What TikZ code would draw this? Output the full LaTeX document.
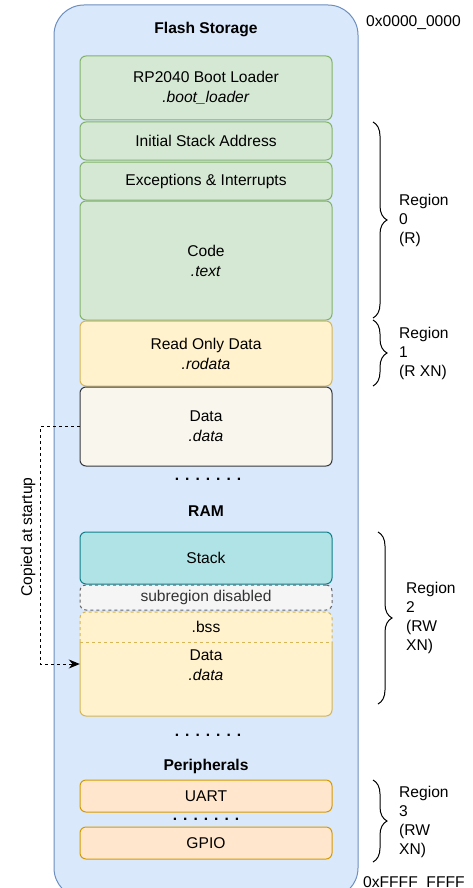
\documentclass[tikz,border=0pt]{standalone}
\usepackage{fontspec}
\setmainfont{Liberation Sans}
\usetikzlibrary{decorations.pathreplacing,arrows.meta}
\definecolor{outerfill}{HTML}{DAE8FC}
\definecolor{outerline}{HTML}{6C8EBF}
\definecolor{grfill}{HTML}{D5E8D4}
\definecolor{grline}{HTML}{82B366}
\definecolor{yefill}{HTML}{FFF2CC}
\definecolor{yeline}{HTML}{D6B656}
\definecolor{dafill}{HTML}{F9F7ED}
\definecolor{daline}{HTML}{36393D}
\definecolor{stfill}{HTML}{B0E3E6}
\definecolor{stline}{HTML}{0E8088}
\definecolor{sbfill}{HTML}{F5F5F5}
\definecolor{sbline}{HTML}{666666}
\definecolor{sbtext}{HTML}{333333}
\definecolor{orfill}{HTML}{FFE6CC}
\definecolor{orline}{HTML}{D79B00}
\newcommand\dotrow{\textbf{.\hskip6pt.\hskip6pt.\hskip6pt.\hskip6pt.\hskip6pt.\hskip6pt.}}
\tikzset{
  txt/.style={font=\fontsize{15.6}{20}\selectfont, inner sep=0pt},
  box/.style={txt, draw, line width=1pt, rounded corners=6pt, minimum width=252pt, align=center},
  green/.style={box, fill=grfill, draw=grline},
  yel/.style={box, fill=yefill, draw=yeline},
  brc/.style={decorate, decoration={brace, amplitude=14pt}, line width=1pt},
  reg/.style={txt, align=left, anchor=west, font=\fontsize{15.6}{19}\selectfont},
}
\begin{document}
\begin{tikzpicture}[x=1pt,y=-1pt]
\useasboundingbox (0,0) rectangle (473,888);
\clip (0,0) rectangle (473,888);
% outer container
\node[draw=outerline, fill=outerfill, line width=1pt, rounded corners=30pt,
      minimum width=304pt, minimum height=893pt, inner sep=0pt] (outer) at (206,451.5) {};
\node[txt, font=\fontsize{15.6}{20}\selectfont\bfseries, anchor=base] (flash) at (206,33.5) {Flash Storage};
\node[txt, anchor=base west] (addr0) at (366,26.5) {0x0000\_0000};
\node[txt, anchor=base west] (addr1) at (363,887.5) {0xFFFF\_FFFF};
% flash boxes
\node[green, minimum height=64pt] (boot) at (206,88) {RP2040 Boot Loader\\\textit{.boot\_loader}};
\node[green, minimum height=38pt] (isa) at (206,141) {Initial Stack Address};
\node[green, minimum height=38pt] (exc) at (206,181) {Exceptions \& Interrupts};
\node[green, minimum height=119pt] (code) at (206,260.5) {Code\\\textit{.text}};
\node[yel, minimum height=65pt] (rod) at (206,353.5) {Read Only Data\\\textit{.rodata}};
\node[box, fill=dafill, draw=daline, minimum height=79pt] (fdata) at (206,426.5) {Data\\\textit{.data}};
\node[txt, anchor=base] (dots1) at (208,480) {\dotrow};
% RAM
\node[txt, font=\fontsize{15.6}{20}\selectfont\bfseries, anchor=base] (ram) at (206,516.5) {RAM};
\node[box, fill=stfill, draw=stline, minimum height=52pt] (stack) at (206,558) {Stack};
\node[box, fill=sbfill, draw=sbline, dashed, text=sbtext, minimum height=25pt] (sub) at (206,597.5) {subregion disabled};
\node[txt, fill=yefill, rounded corners=6pt, minimum width=252pt, minimum height=104pt] (ramdata) at (206,664) {};
\draw[yeline, line width=1pt, rounded corners=6pt] (80,642) -- (80,716) -- (332,716) -- (332,642);
\draw[yeline, line width=1pt, dashed, rounded corners=6pt] (80,642) -- (80,612) -- (332,612) -- (332,642);
\draw[yeline, line width=1pt, dashed] (80,642) -- (332,642);
\node[txt, anchor=base] (bss) at (206,632.5) {.bss};
\node[txt, align=center] (rdtext) at (206,665) {Data\\\textit{.data}};
\node[txt, anchor=base] (dots2) at (208,736) {\dotrow};
% Peripherals
\node[txt, font=\fontsize{15.6}{20}\selectfont\bfseries, anchor=base] (per) at (206,770.5) {Peripherals};
\node[box, fill=orfill, draw=orline, minimum height=32pt] (uart) at (206,796) {UART};
\node[txt, anchor=base] (dots3) at (206,820) {\dotrow};
\node[box, fill=orfill, draw=orline, minimum height=32pt] (gpio) at (206,843) {GPIO};
% copy arrow
\coordinate (turn) at (40,426.5);
\draw[dashed, line width=1pt, -{Stealth[length=11pt,width=9pt]}] (fdata.west) -- (turn) |- (ramdata.west);
\node[txt, rotate=90] (copied) at (28,537) {Copied at startup};
% braces
\coordinate (b0t) at (373,122); \coordinate (b0b) at (373,318);
\coordinate (b1t) at (373,320); \coordinate (b1b) at (373,386);
\coordinate (b2t) at (378,532); \coordinate (b2b) at (378,704);
\coordinate (b3t) at (373,780); \coordinate (b3b) at (373,862);
\draw[brc] (b0t) -- (b0b);
\draw[brc] (b1t) -- (b1b);
\draw[brc] (b2t) -- (b2b);
\draw[brc] (b3t) -- (b3b);
\node[reg] (r0) at (399,220) {Region\\0\\(R)};
\node[reg] (r1) at (399,353) {Region\\1\\(R XN)};
\node[reg] (r2) at (406,618) {Region\\2\\(RW\\XN)};
\node[reg] (r3) at (399,822) {Region\\3\\(RW\\XN)};
\end{tikzpicture}
\end{document}
